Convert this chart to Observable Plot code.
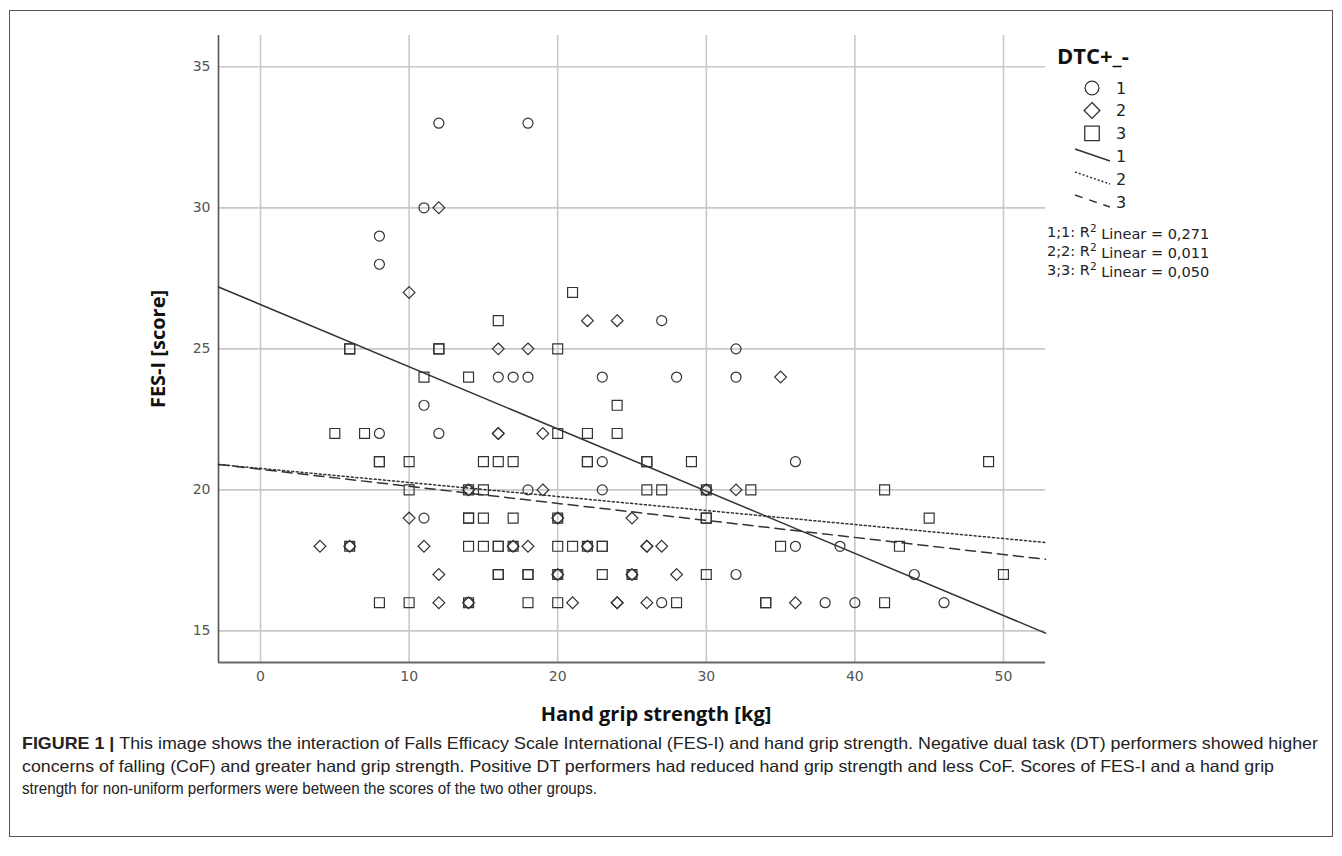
<!DOCTYPE html>
<html>
<head>
<meta charset="utf-8">
<script src="https://cdn.jsdelivr.net/npm/d3@7"></script>
<script src="https://cdn.jsdelivr.net/npm/@observablehq/plot@0.6"></script>
<style>
  html, body { margin: 0; padding: 0; background: #fff; }
  #wrap { position: relative; width: 1342px; height: 856px; overflow: hidden; }
  #frame { position: absolute; left: 9px; top: 10px; width: 1324px; height: 827px; border: 1.5px solid #555; box-sizing: border-box; }
  #chart { position: absolute; left: 0; top: 0; }
  #caption { position: absolute; left: 0; top: 0; }
</style>
</head>
<body>
<div id="wrap">
  <div id="frame"></div>
  <div id="chart"></div>
  <svg id="caption" width="1342" height="856"></svg>
</div>
<script>
// ---------- data ----------
const xTicks = [0, 10, 20, 30, 40, 50];
const yTicks = [15, 20, 25, 30, 35];
const groups = ["1", "2", "3"];

// group 1 (circles): [hand grip kg, FES-I score]
const circlePts = [
  [12,33],[18,33],[11,30],[8,29],[8,28],[27,26],[32,25],[16,24],[17,24],[18,24],
  [23,24],[28,24],[32,24],[11,23],[8,22],[12,22],[23,21],[36,21],[18,20],[23,20],
  [11,19],[36,18],[39,18],[32,17],[44,17],[27,16],[38,16],[40,16],[46,16],
  [6,18],[14,16],[14,20],[30,20],[20,19],[17,18],[22,18],[20,17],[25,17]
];
// group 2 (diamonds)
const diamondPts = [
  [12,30],[10,27],[22,26],[24,26],[16,25],[18,25],[35,24],[16,22],[16,22],[19,22],
  [19,20],[32,20],[10,19],[25,19],[4,18],[11,18],[18,18],[26,18],[26,18],[27,18],
  [12,17],[28,17],[12,16],[21,16],[24,16],[24,16],[26,16],[36,16],
  [6,18],[14,16],[14,20],[30,20],[20,19],[17,18],[22,18],[20,17],[25,17]
];
// group 3 (squares)
const squarePts = [
  [21,27],[16,26],[6,25],[6,25],[12,25],[12,25],[20,25],[11,24],[14,24],[24,23],
  [5,22],[7,22],[20,22],[22,22],[24,22],[8,21],[8,21],[10,21],[15,21],[16,21],
  [17,21],[22,21],[22,21],[26,21],[26,21],[29,21],[49,21],[10,20],[15,20],[26,20],
  [27,20],[33,20],[42,20],[14,19],[14,19],[15,19],[17,19],[30,19],[30,19],[45,19],
  [14,18],[15,18],[16,18],[16,18],[20,18],[21,18],[23,18],[23,18],[35,18],[43,18],
  [16,17],[16,17],[18,17],[18,17],[23,17],[30,17],[50,17],[8,16],[10,16],[18,16],
  [20,16],[28,16],[34,16],[34,16],[42,16],
  [6,18],[14,16],[14,20],[30,20],[20,19],[17,18],[22,18],[20,17],[25,17]
];

// linear fit lines per group
const fitIntercept = [26.57, 20.76, 20.73];
const fitSlope = [-0.2205, -0.0497, -0.0604];
const rSquared = ["0,271", "0,011", "0,050"];

const xDomain = [-2.83, 52.83];
const yDomain = [13.88, 36.11];

// ---------- build ----------
const toObj = (g) => (p) => ({g, x: p[0], y: p[1]});
const pts1 = circlePts.map(toObj("1"));
const pts2 = diamondPts.map(toObj("2"));
const pts3 = squarePts.map(toObj("3"));

const lineData = groups.flatMap((g, i) => xDomain.map(x => ({g, x, y: fitIntercept[i] + fitSlope[i] * x})));
const dashes = ["none", "2,2.6", "10,6"];

const ink = "#333";
const svg = Plot.plot({
  width: 1342,
  height: 740,
  marginLeft: 218,
  marginRight: 297,
  marginTop: 35,
  marginBottom: 78,
  x: {domain: xDomain},
  y: {domain: yDomain},
  style: {fontFamily: "DejaVu Sans", fontSize: "14px", color: "#555", background: "transparent", overflow: "visible"},
  marks: [
    Plot.gridX(xTicks, {stroke: "#c8c8c8", strokeOpacity: 1, strokeWidth: 1.6}),
    Plot.gridY(yTicks, {stroke: "#c8c8c8", strokeOpacity: 1, strokeWidth: 1.6}),
    Plot.ruleX([xDomain[0]], {stroke: "#555", strokeWidth: 1.6}),
    Plot.ruleY([yDomain[0]], {stroke: "#666", strokeWidth: 2}),
    Plot.axisX({ticks: xTicks, tickSize: 0, tickPadding: 9, label: null, fill: "#555"}),
    Plot.axisY({ticks: yTicks, tickSize: 0, tickPadding: 8, label: null, fill: "#555"}),
    ...groups.map((g, i) => Plot.line(lineData.filter(d => d.g === g), {
      x: "x", y: "y", stroke: ink, strokeWidth: 1.5, strokeDasharray: dashes[i]
    })),
    Plot.dot(pts1, {x: "x", y: "y", symbol: "circle", r: 5, stroke: ink, strokeWidth: 1.2, fill: "none"}),
    Plot.dot(pts2, {x: "x", y: "y", symbol: "diamond2", r: 5.3, stroke: ink, strokeWidth: 1.2, fill: "none"}),
    Plot.dot(pts3, {x: "x", y: "y", symbol: "square", r: 5.6, stroke: ink, strokeWidth: 1.2, fill: "none"}),
    Plot.text(["Hand grip strength [kg]"], {frameAnchor: "bottom", dy: 58, dx: 24, textAnchor: "middle", fontSize: 20, fontWeight: "bold", fill: "#111", fontFamily: "Open Sans"}),
    Plot.text(["FES-I [score]"], {frameAnchor: "left", dx: -60, rotate: -90, textAnchor: "middle", fontSize: 20, fontWeight: "bold", fill: "#111", fontFamily: "Open Sans"})
  ]
});
document.getElementById("chart").appendChild(svg);

// ---------- legend ----------
const lg = d3.select(svg).append("g").attr("font-family", "DejaVu Sans").attr("fill", "#222").attr("text-anchor", "start");
lg.append("text").attr("x", 1057).attr("y", 64).attr("font-size", 22).attr("font-weight", "bold")
  .attr("font-family", "Open Sans").attr("fill", "#111").text("DTC+_-");
const symTypes = [d3.symbolCircle, d3.symbolDiamond2, d3.symbolSquare];
const symSizes = [150, 160, 210];
const rowY = [88, 110.5, 133.3, 156, 179, 202];
groups.forEach((g, i) => {
  lg.append("path")
    .attr("d", d3.symbol(symTypes[i], symSizes[i])())
    .attr("transform", `translate(1092,${rowY[i]})`)
    .attr("fill", "none").attr("stroke", ink).attr("stroke-width", 1.3);
  lg.append("text").attr("x", 1116).attr("y", rowY[i]).attr("dy", "0.36em")
    .attr("font-size", 16).text(g);
});
groups.forEach((g, i) => {
  const y = rowY[3 + i];
  lg.append("line").attr("x1", 1075).attr("y1", y - 7).attr("x2", 1110).attr("y2", y + 5)
    .attr("stroke", ink).attr("stroke-width", 1.5).attr("stroke-dasharray", dashes[i] === "none" ? null : (i === 1 ? "2,2" : "8,7"));
  lg.append("text").attr("x", 1116).attr("y", y).attr("dy", "0.36em")
    .attr("font-size", 16).text(g);
});
groups.forEach((g, i) => {
  const t = lg.append("text").attr("x", 1047).attr("y", 232 + i * 19).attr("dy", "0.36em").attr("font-size", 14.5);
  t.append("tspan").text(`${g};${g}: R`);
  t.append("tspan").attr("dy", "-0.45em").attr("font-size", 10.5).text("2");
  t.append("tspan").attr("dy", "0.45em").text(` Linear = ${rSquared[i]}`);
});

// ---------- caption ----------
const cap = d3.select("#caption").attr("font-family", "Liberation Sans").attr("font-size", 16.5).attr("fill", "#222");
const capLines = [
  ["FIGURE 1 | ", "This image shows the interaction of Falls Efficacy Scale International (FES-I) and hand grip strength. Negative dual task (DT) performers showed higher", 1296],
  ["", "concerns of falling (CoF) and greater hand grip strength. Positive DT performers had reduced hand grip strength and less CoF. Scores of FES-I and a hand grip", 1252],
  ["", "strength for non-uniform performers were between the scores of the two other groups.", 575]
];
capLines.forEach(([b, r, len], i) => {
  const t = cap.append("text").attr("x", 22).attr("y", 749 + i * 22.5);
  if (len) t.attr("textLength", len).attr("lengthAdjust", "spacingAndGlyphs");
  if (b) t.append("tspan").attr("font-weight", "bold").text(b);
  t.append("tspan").text(r);
});
</script>
</body>
</html>
